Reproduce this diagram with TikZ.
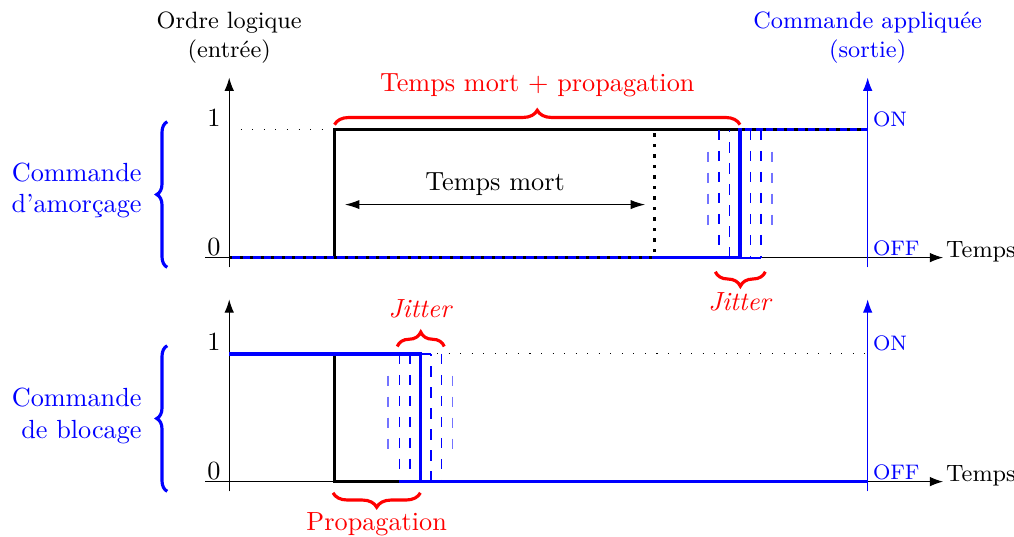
\documentclass[tikz,border=0pt]{standalone}
\usepackage{amsmath,amssymb}
\usepackage{xcolor}
\usepackage{tikz}
\usetikzlibrary{positioning, calc, arrows.meta, decorations.pathreplacing}

\tikzset{
    axis/.style={-{Latex[length=5pt,width=3.6pt]}},
    sig/.style={very thick},
    helper/.style={loosely dotted},
    ideal/.style={line width=1.2pt, dash pattern=on 1.2pt off 2.8pt},
    jit/.style={blue, semithick, dash pattern=on 4pt off 4pt},
    jitlight/.style={blue!55, semithick, dash pattern=on 4pt off 4pt},
    redbrace/.style={red, very thick, decorate, decoration={brace, amplitude=5.5pt}},
    bluebrace/.style={blue, very thick, decorate, decoration={brace, amplitude=4pt}},
}

\begin{document}
\begin{tikzpicture}

    \useasboundingbox (-3.07,-3.74) rectangle (10.51,3.45);

    % ---------- Top chart: turn-on command ----------

    % Level 1 guide line
    \draw[helper] (0,1.71) -- (8.55,1.71);

    % Axes
    \draw[axis] (0,-0.13) -- (0,2.41);
    \draw[axis] (-0.32,0) -- (9.56,0) node[anchor=base west, inner sep=1pt, font=\small] (tempsA) {Temps};
    \draw[axis, blue] (8.55,-0.13) -- (8.55,2.41);

    % Axis titles
    \node[align=center, font=\small] (ordre) at (0,2.95) {Ordre logique\\(entrée)};
    \node[align=center, font=\small, blue] (appli) at (8.55,2.95) {Commande appliquée\\(sortie)};

    % Level labels
    \node[anchor=base east, inner sep=2pt] (unA) at (-0.04,1.75) {1};
    \node[anchor=base east, inner sep=2pt] (zeroA) at (-0.04,0.03) {0};
    \node[anchor=base west, inner sep=1pt, blue, font=\footnotesize] (onA) at (8.58,1.75) {ON};
    \node[anchor=base west, inner sep=1pt, blue, font=\footnotesize] (offA) at (8.58,0.03) {OFF};

    % Logic order (black)
    \draw[sig] (0,0) -- (1.41,0) -- (1.41,1.71) -- (8.55,1.71);

    % Jitter around the applied edge
    \draw[jitlight] (6.41,1.42) -- (6.41,0.43);
    \draw[jit] (6.56,1.71) -- (6.56,0);
    \draw[jit] (6.70,0) -- (6.70,1.71);
    \draw[jit] (6.98,1.71) -- (6.98,0);
    \draw[jit] (7.12,1.71) -- (7.12,0);
    \draw[jitlight] (7.27,1.42) -- (7.27,0.43);

    % Applied command (blue)
    \draw[sig, blue] (0,0) -- (6.84,0) -- (6.84,1.71) -- (8.55,1.71);
    \draw[thick, blue] (6.84,0) -- (7.12,0);

    % Order delayed by the dead time only
    \draw[ideal] (0,0) -- (5.69,0) -- (5.69,1.71) -- (8.55,1.71);

    % Dead time arrow
    \draw[{Latex[length=5.5pt,width=3.5pt]}-{Latex[length=5.5pt,width=3.5pt]}] (1.55,0.71)
        -- node[above] (mort) {Temps mort} (5.57,0.71);

    % Braces
    \draw[redbrace] (1.41,1.78) -- (6.84,1.78)
        node[midway, above=6.7pt] (mortprop) {Temps mort $+$ propagation};
    \draw[redbrace] (7.18,-0.19) -- (6.51,-0.19)
        node[midway, below=4pt] (jitA) {\textit{Jitter}};
    \draw[bluebrace] (-0.83,-0.13) -- (-0.83,1.82);
    \node[blue, align=right, anchor=east] (amorce) at (-1.05,0.9) {Commande\\d'amorçage};

    % ---------- Bottom chart: turn-off command ----------

    % Level 1 guide line
    \draw[helper] (0,-1.29) -- (8.55,-1.29);

    % Axes
    \draw[axis] (0,-3.13) -- (0,-0.56);
    \draw[axis] (-0.32,-3) -- (9.56,-3) node[anchor=base west, inner sep=1pt, font=\small] (tempsB) {Temps};
    \draw[axis, blue] (8.55,-3.13) -- (8.55,-0.56);

    % Level labels
    \node[anchor=base east, inner sep=2pt] (unB) at (-0.04,-1.25) {1};
    \node[anchor=base east, inner sep=2pt] (zeroB) at (-0.04,-2.97) {0};
    \node[anchor=base west, inner sep=1pt, blue, font=\footnotesize] (onB) at (8.58,-1.25) {ON};
    \node[anchor=base west, inner sep=1pt, blue, font=\footnotesize] (offB) at (8.58,-2.97) {OFF};

    % Logic order (black)
    \draw[sig] (0,-1.29) -- (1.41,-1.29) -- (1.41,-3) -- (8.55,-3);

    % Jitter around the applied edge
    \draw[jitlight] (2.13,-1.58) -- (2.13,-2.57);
    \draw[jit] (2.28,-1.29) -- (2.28,-3);
    \draw[jit] (2.42,-1.29) -- (2.42,-3);
    \draw[jit] (2.70,-3) -- (2.70,-1.29);
    \draw[jit] (2.84,-1.29) -- (2.84,-3);
    \draw[jitlight] (2.99,-1.58) -- (2.99,-2.57);

    % Applied command (blue)
    \draw[sig, blue] (0,-1.29) -- (2.56,-1.29) -- (2.56,-3) -- (8.55,-3);
    \draw[sig, blue] (2.28,-3) -- (2.56,-3);
    \draw[thick, blue] (2.56,-1.29) -- (2.70,-1.29);

    % Braces
    \draw[redbrace] (2.25,-1.19) -- (2.88,-1.19)
        node[midway, above=7pt] (jitB) {\textit{Jitter}};
    \draw[redbrace] (2.56,-3.15) -- (1.39,-3.15)
        node[midway, below=3.5pt] (propag) {Propagation};
    \draw[bluebrace] (-0.83,-3.13) -- (-0.83,-1.18);
    \node[blue, align=right, anchor=east] (blocage) at (-1.05,-2.12) {Commande\\de blocage};

\end{tikzpicture}
\end{document}
